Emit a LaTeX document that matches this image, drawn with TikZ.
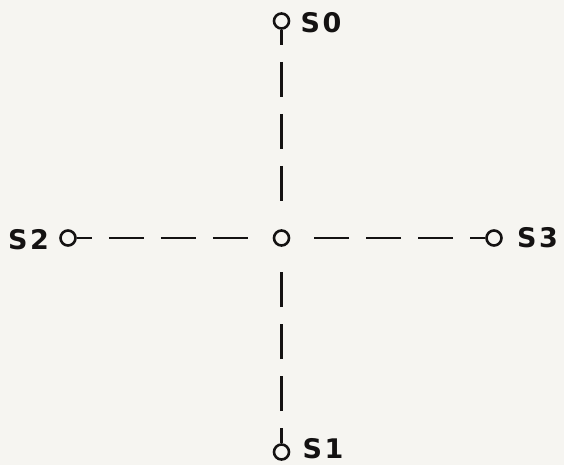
\documentclass[tikz,border=0pt]{standalone}
\usepackage{fontspec}
\setmainfont{DejaVu Sans}
\newfontfamily\tagfont{DejaVu Sans}[LetterSpace=10]
\usetikzlibrary{positioning}
\definecolor{paper}{RGB}{246,245,241}
\definecolor{inkblack}{RGB}{20,18,18}

\begin{document}
\begin{tikzpicture}[
    x=1pt, y=-1pt,
    node distance=10pt,
    term/.style={circle, draw=inkblack, line width=2.6pt, minimum size=15pt, inner sep=0pt},
    tag/.style={inner sep=0pt, font=\tagfont\fontsize{27}{30}\selectfont\bfseries, text=inkblack},
    wire/.style={draw=inkblack, line width=2.6pt, dash pattern=on 15pt off 17pt on 35pt off 17pt on 35pt off 17pt on 35pt off 300pt}
  ]
  \fill [paper] (0,0) rectangle (564,465);
  \useasboundingbox (0,0) rectangle (564,465);

  % switch points
  \node [term] (hub) at (281.5,238) {};
  \node [term] (s0) at (281.5,21) {};
  \node [term] (s1) at (281.5,452) {};
  \node [term] (s2) at (68,238) {};
  \node [term] (s3) at (494,238) {};

  % labels
  \node [tag, right=10pt of s0, yshift=-2pt] (lab0) {S0};
  \node [tag, right=12pt of s1, yshift=3pt] (lab1) {S1};
  \node [tag, left=10pt of s2, yshift=-2pt] (lab2) {S2};
  \node [tag, right=14pt of s3] (lab3) {S3};

  % dashed links
  \draw [wire] (s0) -- (hub);
  \draw [wire] (s1) -- (hub);
  \draw [wire] (s2) -- (hub);
  \draw [wire] (s3) -- (hub);
\end{tikzpicture}
\end{document}
